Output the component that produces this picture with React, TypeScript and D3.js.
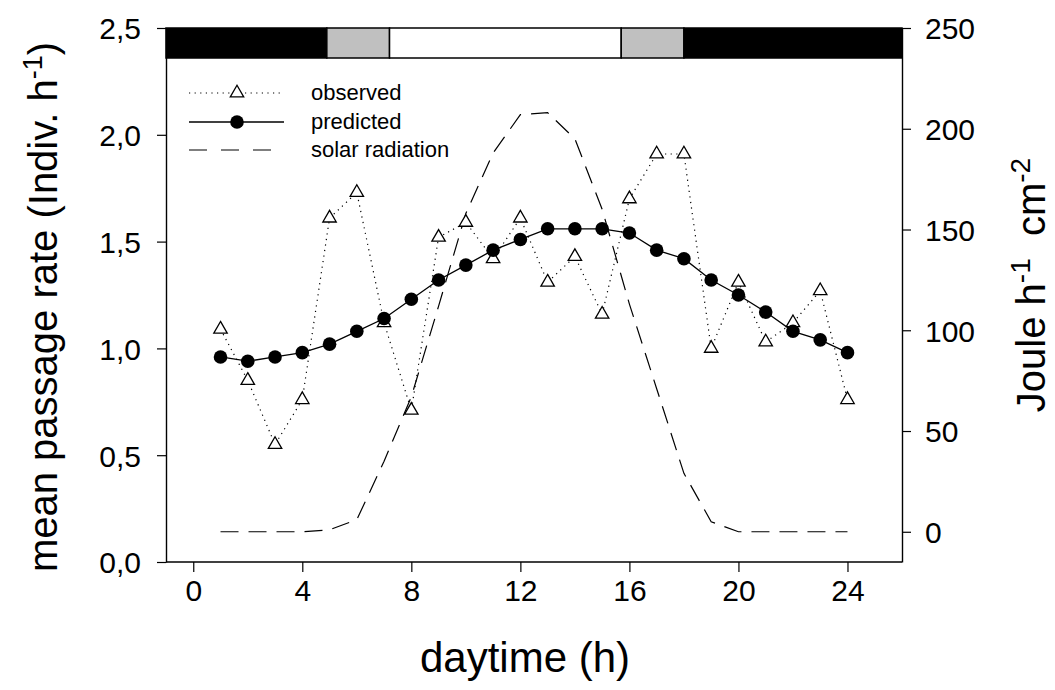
import React, { useRef, useEffect } from 'react';
import * as d3 from 'd3';

const hours = [1, 2, 3, 4, 5, 6, 7, 8, 9, 10, 11, 12, 13, 14, 15, 16, 17, 18, 19, 20, 21, 22, 23, 24];
const observed = [1.09, 0.85, 0.55, 0.76, 1.61, 1.73, 1.12, 0.71, 1.52, 1.59, 1.42, 1.61, 1.31, 1.43, 1.16, 1.70, 1.91, 1.91, 1.00, 1.31, 1.03, 1.12, 1.27, 0.76];
const predicted = [0.96, 0.94, 0.96, 0.98, 1.02, 1.08, 1.14, 1.23, 1.32, 1.39, 1.46, 1.51, 1.56, 1.56, 1.56, 1.54, 1.46, 1.42, 1.32, 1.25, 1.17, 1.08, 1.04, 0.98];
const solar = [0, 0, 0, 0, 1, 6, 35, 67, 112, 158, 188, 207, 208, 195, 160, 113, 71, 29, 5, 0, 0, 0, 0, 0];

// light phases along the top bar: night, twilight, day, twilight, night
const phaseStarts = [-1, 4.9, 7.2, 15.7, 18];
const phaseEnds = [4.9, 7.2, 15.7, 18, 26];
const phaseColors = ['#000000', '#c0c0c0', '#ffffff', '#c0c0c0', '#000000'];

const xTicks = [0, 4, 8, 12, 16, 20, 24];
const leftTicks = [0, 0.5, 1, 1.5, 2, 2.5];
const rightTicks = [0, 50, 100, 150, 200, 250];

const legendLabels = ['observed', 'predicted', 'solar radiation'];

const FONT = '"Liberation Sans", Arial, sans-serif';

function App() {
    const svgRef = useRef<SVGSVGElement>(null);

    useEffect(() => {
        const svg = d3.select(svgRef.current);
        svg.selectAll('*').remove();

        const left = 166, right = 902, top = 28, bottom = 562;

        const x = d3.scaleLinear().domain([-1, 26]).range([left, right]);
        const y = d3.scaleLinear().domain([0, 2.5]).range([bottom, top]);
        const y2 = d3.scaleLinear().domain([-15, 250]).range([bottom, top]);

        const comma = (v: number) => d3.format('.1f')(v).replace('.', ',');

        // solar radiation (dashed)
        const solarLine = d3.line<number>()
            .x((d, i) => x(hours[i]))
            .y(d => y2(d));
        svg.append('path')
            .attr('d', solarLine(solar))
            .attr('fill', 'none')
            .attr('stroke', '#000')
            .attr('stroke-width', 1.2)
            .attr('stroke-dasharray', '18,10');

        // observed (dotted + triangles)
        const obsLine = d3.line<number>()
            .x((d, i) => x(hours[i]))
            .y(d => y(d));
        svg.append('path')
            .attr('d', obsLine(observed))
            .attr('fill', 'none')
            .attr('stroke', '#000')
            .attr('stroke-width', 1.2)
            .attr('stroke-dasharray', '1.2,4.4');

        const tri = d3.symbol().type(d3.symbolTriangle).size(78);
        svg.selectAll('.obs')
            .data(observed)
            .join('path')
            .attr('class', 'obs')
            .attr('d', tri)
            .attr('transform', (d, i) => `translate(${x(hours[i])},${y(d)})`)
            .attr('fill', '#fff')
            .attr('stroke', '#000')
            .attr('stroke-width', 1.3);

        // predicted (solid + filled circles)
        svg.append('path')
            .attr('d', obsLine(predicted))
            .attr('fill', 'none')
            .attr('stroke', '#000')
            .attr('stroke-width', 1.3);
        svg.selectAll('.pred')
            .data(predicted)
            .join('circle')
            .attr('class', 'pred')
            .attr('cx', (d, i) => x(hours[i]))
            .attr('cy', d => y(d))
            .attr('r', 6.8)
            .attr('fill', '#000');

        // top light bar
        svg.selectAll('.phase')
            .data(phaseStarts)
            .join('rect')
            .attr('class', 'phase')
            .attr('x', d => x(d))
            .attr('y', top)
            .attr('width', (d, i) => x(phaseEnds[i]) - x(d))
            .attr('height', 30)
            .attr('fill', (d, i) => phaseColors[i])
            .attr('stroke', '#000')
            .attr('stroke-width', 1.5);

        // axes
        const xAxis = svg.append('g')
            .attr('transform', `translate(0,${bottom})`)
            .call(d3.axisBottom(x).tickValues(xTicks).tickSize(10).tickPadding(8).tickSizeOuter(0));
        const yAxis = svg.append('g')
            .attr('transform', `translate(${left},0)`)
            .call(d3.axisLeft(y).tickValues(leftTicks).tickFormat(d => comma(+d)).tickSize(9).tickPadding(16).tickSizeOuter(0));
        const y2Axis = svg.append('g')
            .attr('transform', `translate(${right},0)`)
            .call(d3.axisRight(y2).tickValues(rightTicks).tickSize(9).tickPadding(14).tickSizeOuter(0));

        [xAxis, yAxis, y2Axis].forEach(g => {
            g.select('.domain').attr('stroke-width', 1.4);
            g.selectAll('.tick line').attr('stroke-width', 1.2);
            g.selectAll('text')
                .attr('font-family', FONT)
                .attr('font-size', 30)
                .attr('fill', '#000');
        });
        xAxis.select('.domain').attr('d', `M${left},0H${right}`);
        yAxis.selectAll('.tick text').attr('dy', '0.36em');
        y2Axis.selectAll('.tick text').attr('dy', '0.36em');

        // axis titles
        svg.append('text')
            .attr('x', 525)
            .attr('y', 672)
            .attr('text-anchor', 'middle')
            .attr('font-family', FONT)
            .attr('font-size', 42)
            .text('daytime (h)');

        const yTitle = svg.append('text')
            .attr('transform', `translate(57,307) rotate(-90)`)
            .attr('text-anchor', 'middle')
            .attr('font-family', FONT)
            .attr('font-size', 40);
        yTitle.append('tspan').text('mean passage rate (Indiv. h');
        yTitle.append('tspan').attr('dy', -15).attr('font-size', 27).text('-1');
        yTitle.append('tspan').attr('dy', 15).text(')');

        const y2Title = svg.append('text')
            .attr('transform', `translate(1045,285) rotate(-90)`)
            .attr('text-anchor', 'middle')
            .attr('font-family', FONT)
            .attr('font-size', 40)
            .style('white-space', 'pre');
        y2Title.append('tspan').text('Joule h');
        y2Title.append('tspan').attr('dy', -15).attr('font-size', 28).text('-1');
        y2Title.append('tspan').attr('dy', 15).text('  cm');
        y2Title.append('tspan').attr('dy', -15).attr('font-size', 28).text('-2');

        // legend
        const lx0 = 189, lx1 = 284, lxm = 237, ltx = 311;
        const rows = [93, 122, 150];
        const legend = svg.append('g');
        legend.append('line')
            .attr('x1', lx0).attr('x2', lx1).attr('y1', rows[0]).attr('y2', rows[0])
            .attr('stroke', '#000').attr('stroke-width', 1.2).attr('stroke-dasharray', '1.2,4.4');
        legend.append('path')
            .attr('d', tri)
            .attr('transform', `translate(${lxm},${rows[0]})`)
            .attr('fill', '#fff').attr('stroke', '#000').attr('stroke-width', 1.3);
        legend.append('line')
            .attr('x1', lx0).attr('x2', lx1).attr('y1', rows[1]).attr('y2', rows[1])
            .attr('stroke', '#000').attr('stroke-width', 1.3);
        legend.append('circle')
            .attr('cx', lxm).attr('cy', rows[1]).attr('r', 6.8).attr('fill', '#000');
        legend.append('line')
            .attr('x1', lx0).attr('x2', lx1).attr('y1', rows[2]).attr('y2', rows[2])
            .attr('stroke', '#000').attr('stroke-width', 1.2).attr('stroke-dasharray', '18,14');
        legend.selectAll('.lt')
            .data(legendLabels)
            .join('text')
            .attr('class', 'lt')
            .attr('x', ltx)
            .attr('y', (d, i) => rows[i] + 7)
            .attr('font-family', FONT)
            .attr('font-size', 22)
            .text(d => d);
    }, []);

    return (
        <div style={{ position: 'absolute', left: 0, top: 0 }}>
            <svg ref={svgRef} width={1055} height={690} style={{ display: 'block', background: '#fff' }}></svg>
        </div>
    );
}

export default App;
